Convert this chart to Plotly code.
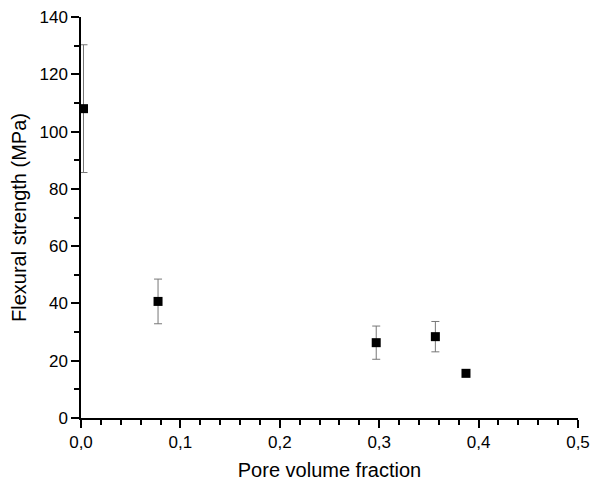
import plotly.graph_objects as go

# pore volume fraction vs flexural strength (MPa)
pore_fraction = [0.0025, 0.0775, 0.297, 0.3565, 0.3873]
strength = [108.0, 40.7, 26.3, 28.4, 15.6]
strength_err = [22.3, 7.8, 5.8, 5.3, 1.2]

fig = go.Figure()
fig.add_trace(go.Scatter(
    x=pore_fraction, y=strength, mode="markers",
    marker=dict(symbol="square", size=9, color="black"),
    error_y=dict(type="data", array=strength_err, color="#777777", thickness=1, width=4),
    showlegend=False,
))

axis_font = dict(family="Liberation Sans, Arial, sans-serif", size=17, color="black")
title_font = dict(axis_font, size=20)
fig.update_xaxes(
    range=[0, 0.5], tick0=0, dtick=0.1, tickformat=".1f",
    ticks="outside", ticklen=8, tickwidth=1.5, tickcolor="black",
    minor=dict(dtick=0.02, ticks="outside", ticklen=5, tickwidth=1.5, tickcolor="black"),
    showline=True, linecolor="black", linewidth=1.5, showgrid=False, zeroline=False,
    tickfont=axis_font, automargin=False, ticklabeloverflow="allow",
    title=dict(text="Pore volume fraction", font=title_font, standoff=12),
)
fig.update_yaxes(
    range=[0, 140], dtick=20,
    ticks="outside", ticklen=8, tickwidth=1.5, tickcolor="black",
    minor=dict(dtick=10, ticks="outside", ticklen=5, tickwidth=1.5, tickcolor="black"),
    showline=True, linecolor="black", linewidth=1.5, showgrid=False, zeroline=False,
    tickfont=axis_font, automargin=False, ticklabeloverflow="allow",
    title=dict(text="Flexural strength (MPa)", font=title_font, standoff=8),
)
# page body has an 8px margin, so the figure is a bit smaller than the window
fig.update_layout(
    width=592, height=473, separators=", ",
    plot_bgcolor="white", paper_bgcolor="white",
    margin=dict(l=73, r=22, t=9, b=63),
)
fig.write_html("out.html")
